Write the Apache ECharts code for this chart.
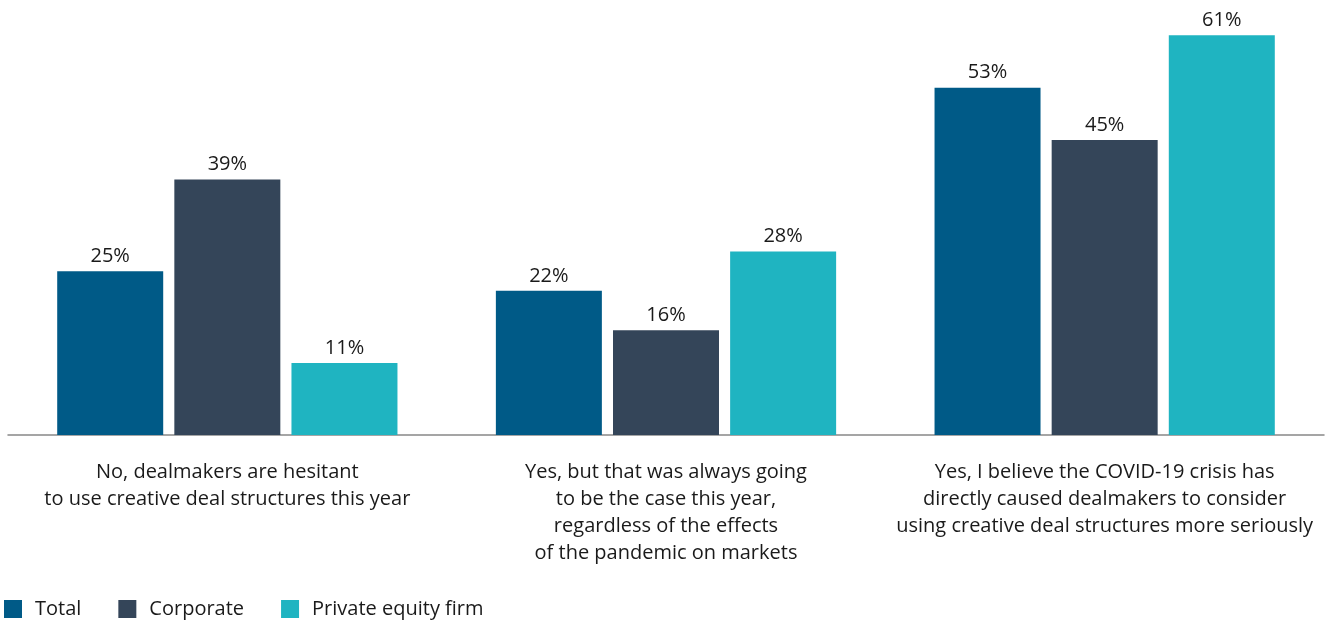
<!DOCTYPE html>
<html>
<head>
<meta charset="utf-8">
<script src="https://cdn.jsdelivr.net/npm/echarts@6/dist/echarts.min.js"></script>
<style>
  html, body { margin: 0; padding: 0; background: #fff; }
  #chart { width: 1328px; height: 622px; }
</style>
</head>
<body>
<div id="chart"></div>
<script>
// categories (answers) and share per respondent group, in %
const categories = [
    'No, dealmakers are hesitant\nto use creative deal structures this year',
    'Yes, but that was always going\nto be the case this year,\nregardless of the effects\nof the pandemic on markets',
    'Yes, I believe the COVID-19 crisis has\ndirectly caused dealmakers to consider\nusing creative deal structures more seriously'
];
const total = [25, 22, 53];
const corporate = [39, 16, 45];
const privateEquity = [11, 28, 61];

const font = '"Open Sans", Lato, sans-serif';

function barSeries(name, data, color) {
    return {
        name: name,
        type: 'bar',
        data: data,
        barWidth: 106,
        barGap: '10.5%',
        itemStyle: { color: color },
        label: {
            show: true,
            position: 'top',
            distance: 5,
            formatter: '{c}%',
            color: '#1a1a1a',
            fontSize: 20,
            fontFamily: font
        }
    };
}

const myChart = echarts.init(document.getElementById('chart'));
myChart.setOption({
    animation: false,
    textStyle: { fontFamily: font },
    grid: { left: 8, right: 4, top: 9, bottom: 187, containLabel: false },
    legend: {
        left: -1,
        bottom: -2,
        itemWidth: 18,
        itemHeight: 18,
        itemGap: 37,
        icon: 'rect',
        textStyle: { fontSize: 20, color: '#1a1a1a', padding: [0, 0, 0, 8] },
        data: ['Total', 'Corporate', 'Private equity firm']
    },
    xAxis: {
        type: 'category',
        data: categories,
        axisTick: { show: false },
        axisLine: { lineStyle: { color: '#888', width: 1.5 } },
        axisLabel: {
            interval: 0,
            margin: 24,
            fontSize: 20,
            lineHeight: 27,
            color: '#1a1a1a'
        }
    },
    yAxis: {
        type: 'value',
        min: 0,
        max: 65,
        show: false,
        splitLine: { show: false }
    },
    series: [
        barSeries('Total', total, '#005a87'),
        barSeries('Corporate', corporate, '#344559'),
        barSeries('Private equity firm', privateEquity, '#1fb4c1')
    ]
});
</script>
</body>
</html>
